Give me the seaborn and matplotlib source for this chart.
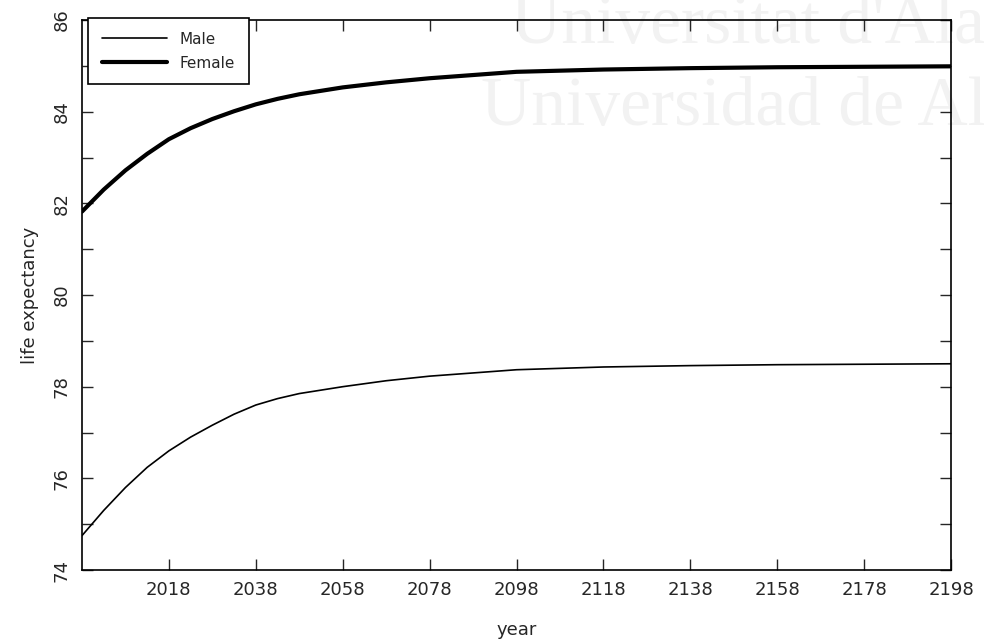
import pandas as pd
import matplotlib.pyplot as plt
import seaborn as sns

# values
years = [1998, 2003, 2008, 2013, 2018, 2023, 2028, 2033, 2038, 2043, 2048, 2058,
         2068, 2078, 2098, 2118, 2138, 2158, 2178, 2198]
male = [74.75, 75.30, 75.80, 76.24, 76.60, 76.90, 77.16, 77.40, 77.60, 77.74, 77.85,
        78.00, 78.13, 78.23, 78.37, 78.43, 78.46, 78.48, 78.49, 78.50]
female = [81.82, 82.30, 82.72, 83.08, 83.40, 83.64, 83.84, 84.01, 84.16, 84.28, 84.38,
          84.53, 84.64, 84.73, 84.87, 84.92, 84.95, 84.97, 84.98, 84.99]
xticks = [2018, 2038, 2058, 2078, 2098, 2118, 2138, 2158, 2178, 2198]

df = pd.DataFrame({
    'year': years * 2,
    'life': male + female,
    'sex': ['Male'] * len(years) + ['Female'] * len(years),
})

sns.set_style('ticks')
plt.rcParams['font.family'] = ['DejaVu Sans']

fig = plt.figure(figsize=(9.84, 6.42), dpi=100)
ax = fig.add_axes([0.0833, 0.1121, 0.8832, 0.8567])
ax.set_zorder(1)
ax.patch.set_alpha(0)

# scanned-page watermark behind the plot
fig.text(0.519, 0.933, "Universitat d'Ala", family='Liberation Serif', fontsize=50,
         color='#f2f2f2', va='baseline', zorder=0)
fig.text(0.489, 0.805, "Universidad de Al", family='Liberation Serif', fontsize=50,
         color='#f2f2f2', va='baseline', zorder=0)

sns.lineplot(data=df, x='year', y='life', hue='sex', size='sex',
             sizes={'Male': 1.2, 'Female': 3.0},
             palette={'Male': 'black', 'Female': 'black'}, ax=ax)

ax.set_xlim(1998, 2198)
ax.set_ylim(74, 86)
ax.set_xticks(xticks)
ax.set_xticklabels([str(x) for x in xticks], fontsize=13)
ax.set_yticks(range(74, 87))
ax.set_yticklabels([str(v) if v % 2 == 0 else '' for v in range(74, 87)],
                   fontsize=13, rotation=90, va='center')
ax.tick_params(direction='in', length=8, top=True, right=True, width=1, pad=8)
for s in ax.spines.values():
    s.set_linewidth(1.2)
    s.set_color('black')

ax.set_xlabel('year', fontsize=13, labelpad=16)
ax.set_ylabel('life expectancy', fontsize=13, labelpad=10)

handles, labels = ax.get_legend_handles_labels()
leg = ax.legend(handles, labels, loc='upper left', bbox_to_anchor=(0.007, 1.004),
                borderaxespad=0, fontsize=11, frameon=True, fancybox=False,
                edgecolor='black', framealpha=1, handlelength=4.3, borderpad=0.9,
                labelspacing=0.6)
leg.get_frame().set_linewidth(1.2)

fig.savefig('out.png', dpi=100)
